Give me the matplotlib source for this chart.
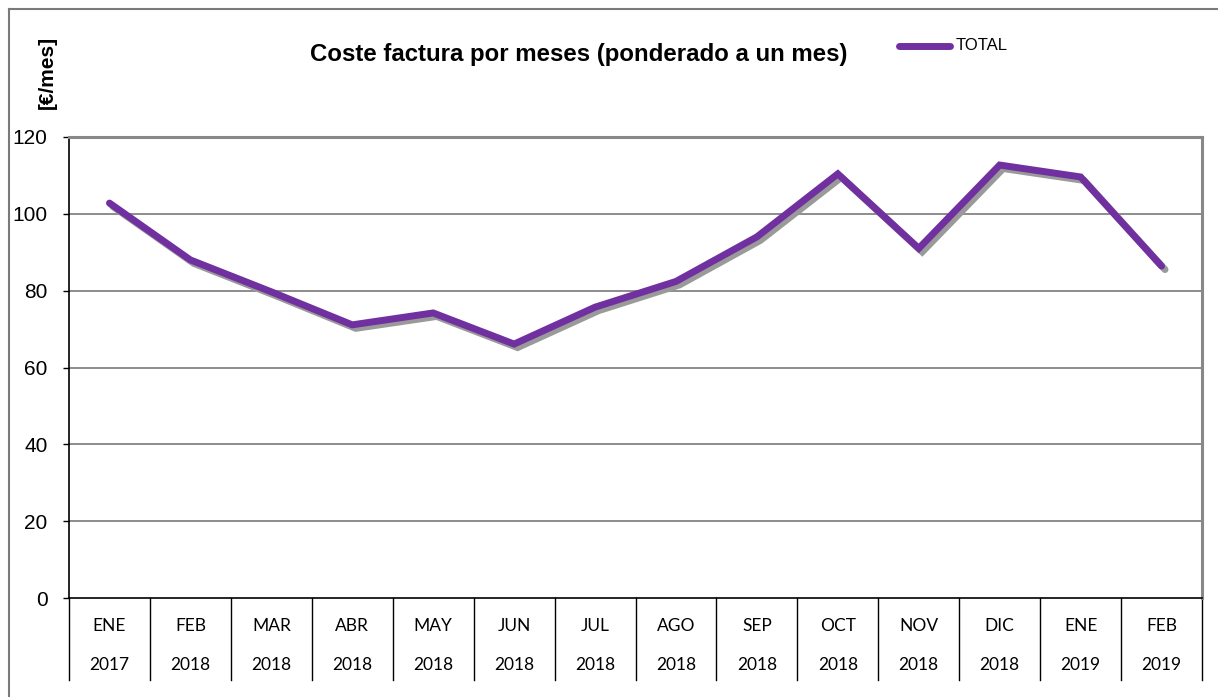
import matplotlib
matplotlib.use("Agg")
import matplotlib.pyplot as plt
from matplotlib.transforms import ScaledTranslation, blended_transform_factory
from matplotlib.lines import Line2D

months = ["ENE", "FEB", "MAR", "ABR", "MAY", "JUN", "JUL", "AGO", "SEP", "OCT", "NOV", "DIC", "ENE", "FEB"]
years = ["2017", "2018", "2018", "2018", "2018", "2018", "2018", "2018", "2018", "2018", "2018", "2018", "2019", "2019"]
total = [102.8, 88.0, 79.7, 71.1, 74.2, 66.1, 75.7, 82.4, 94.0, 110.4, 91.0, 112.7, 109.6, 86.4]

W, H = 1218, 697
fig = plt.figure(figsize=(W / 100, H / 100), dpi=100)
fig.patch.set_facecolor("white")

L, R, T, B = 69, 1202, 137, 598
ax = fig.add_axes([L / W, 1 - B / H, (R - L) / W, (B - T) / H])

x = list(range(len(total)))
shadow = ax.transData + ScaledTranslation(3.5 / 100, -3.5 / 100, fig.dpi_scale_trans)
ax.plot(x, total, color="#9a9a9a", lw=5.0, solid_capstyle="round", solid_joinstyle="miter",
        transform=shadow, zorder=3)
ax.plot(x, total, color="#7030A0", lw=5.0, solid_capstyle="round", solid_joinstyle="miter",
        zorder=4, label="TOTAL")

ax.set_xlim(-0.5, len(total) - 0.5)
ax.set_ylim(0, 120)
ax.set_yticks(range(0, 121, 20))
ax.set_yticklabels([str(v) for v in range(0, 121, 20)], fontsize=15, family="Liberation Sans")
ax.tick_params(axis="y", length=4.5, width=1.0, color="black", pad=11)
ax.set_xticks([])
for yv in range(20, 121, 20):
    ax.axhline(yv, color="#6e6e6e", lw=1.1, zorder=1)

ax.spines["left"].set_color("black")
ax.spines["left"].set_linewidth(1.2)
ax.spines["bottom"].set_color("black")
ax.spines["bottom"].set_linewidth(1.2)
for s in ("top", "right"):
    ax.spines[s].set_color("#888888")
    ax.spines[s].set_linewidth(2.2)

# category axis labels and separators
tr = blended_transform_factory(ax.transData, ax.transAxes)
sep_bottom = -(680 - B) / (B - T)
for i in range(len(total) + 1):
    ax.plot([i - 0.5, i - 0.5], [0, sep_bottom], color="black", lw=1.0,
            transform=tr, clip_on=False)
for i, (m, yr) in enumerate(zip(months, years)):
    ax.text(i, -(626 - B) / (B - T), m, transform=tr, ha="center", va="center",
            fontsize=12.5, family="Lato", color="black")
    ax.text(i, -(665 - B) / (B - T), yr, transform=tr, ha="center", va="center",
            fontsize=12.5, family="Lato", color="black")

# title and y label
fig.text(579 / W, 1 - 55 / H, "Coste factura por meses (ponderado a un mes)",
         ha="center", va="center", fontsize=17.3, fontweight="bold", family="Liberation Sans")
fig.text(47 / W, 1 - 72 / H, "[€/mes]", rotation=90, ha="center", va="center",
         fontsize=15, fontweight="bold", family="Liberation Sans")

# legend
fig.add_artist(Line2D([899 / W, 950 / W], [1 - 46 / H, 1 - 46 / H], color="#7030A0", lw=5.0,
                      solid_capstyle="round"))
fig.text(956 / W, 1 - 45 / H, "TOTAL", ha="left", va="center", fontsize=12,
         family="Liberation Sans")

# outer chart border (left and top visible)
fig.add_artist(Line2D([9 / W, 9 / W], [0, 1 - 9 / H], color="#7a7a7a", lw=1.5))
fig.add_artist(Line2D([9 / W, 1], [1 - 9 / H, 1 - 9 / H], color="#7a7a7a", lw=1.5))

fig.savefig("out.png", dpi=100)
